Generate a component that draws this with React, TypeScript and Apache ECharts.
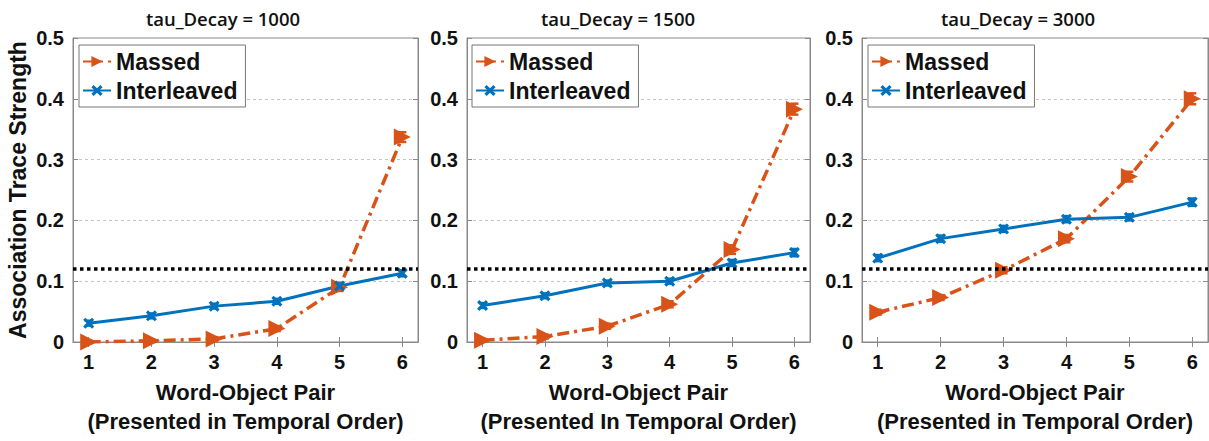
import React, { useEffect, useRef } from "react";
import * as echarts from "echarts";

// ---- data ----
const pairs = [1, 2, 3, 4, 5, 6];
const panelTitles = ["tau_Decay = 1000", "tau_Decay = 1500", "tau_Decay = 3000"];
const xNames = [
  "Word-Object Pair\n(Presented in Temporal Order)",
  "Word-Object Pair\n(Presented In Temporal Order)",
  "Word-Object Pair\n(Presented in Temporal Order)",
];
const yName = "Association Trace Strength";
const seriesNames = ["Massed", "Interleaved"];
const threshold = 0.12;

const massed1000 = [0.0, 0.002, 0.005, 0.022, 0.09, 0.337];
const interleaved1000 = [0.031, 0.043, 0.059, 0.067, 0.092, 0.113];
const massed1500 = [0.003, 0.009, 0.026, 0.062, 0.152, 0.383];
const interleaved1500 = [0.06, 0.076, 0.097, 0.1, 0.13, 0.147];
const massed3000 = [0.049, 0.073, 0.118, 0.17, 0.272, 0.4];
const interleaved3000 = [0.138, 0.17, 0.186, 0.202, 0.205, 0.23];

const massedErr1000 = [0.002, 0.002, 0.003, 0.004, 0.006, 0.008];
const interleavedErr1000 = [0.004, 0.004, 0.004, 0.004, 0.005, 0.005];
const massedErr1500 = [0.002, 0.003, 0.004, 0.005, 0.007, 0.009];
const interleavedErr1500 = [0.004, 0.004, 0.004, 0.004, 0.005, 0.006];
const massedErr3000 = [0.004, 0.004, 0.005, 0.006, 0.008, 0.009];
const interleavedErr3000 = [0.005, 0.005, 0.005, 0.005, 0.005, 0.006];

const massedByPanel = [massed1000, massed1500, massed3000];
const interleavedByPanel = [interleaved1000, interleaved1500, interleaved3000];
const massedErrByPanel = [massedErr1000, massedErr1500, massedErr3000];
const interleavedErrByPanel = [interleavedErr1000, interleavedErr1500, interleavedErr3000];

// ---- styling / layout ----
const ORANGE = "#D95319";
const BLUE = "#0072BD";
const AXIS = "#8a8a8a";
const TEXT = "#111";
const FONT = 'Arial, "Liberation Sans", Helvetica, sans-serif';
const gridLefts = [73, 467, 862];
const gridWidths = [345, 343, 346];
const titleCenters = [218, 613, 1013];
const legendLefts = [79, 472, 868];
const X_SYMBOL =
  "path://M0,2 L2,0 L5,3 L8,0 L10,2 L7,5 L10,8 L8,10 L5,7 L2,10 L0,8 L3,5 Z";

function errorSeries(name: string, color: string, values: number[], errs: number[], idx: number) {
  return {
    type: "custom",
    name: name + " error",
    xAxisIndex: idx * 2,
    yAxisIndex: idx * 2,
    silent: true,
    z: 3,
    data: pairs.map((x, j) => [x, values[j] - errs[j], values[j] + errs[j]]),
    renderItem: (params: any, api: any) => {
      const x = api.value(0);
      const lo = api.coord([x, api.value(1)]);
      const hi = api.coord([x, api.value(2)]);
      const cap = 4;
      const style = { stroke: color, lineWidth: 2.5, fill: "none" };
      return {
        type: "group",
        children: [
          { type: "line", shape: { x1: lo[0], y1: lo[1], x2: hi[0], y2: hi[1] }, style },
          { type: "line", shape: { x1: lo[0] - cap, y1: lo[1], x2: lo[0] + cap, y2: lo[1] }, style },
          { type: "line", shape: { x1: hi[0] - cap, y1: hi[1], x2: hi[0] + cap, y2: hi[1] }, style },
        ],
      };
    },
  };
}

function buildOption() {
  const grids: any[] = [];
  const xAxes: any[] = [];
  const yAxes: any[] = [];
  const series: any[] = [];
  const titles: any[] = [];
  const legends: any[] = [];

  for (let i = 0; i < 3; i++) {
    grids.push({
      left: gridLefts[i],
      width: gridWidths[i],
      top: 38,
      height: 305,
      show: true,
      borderColor: AXIS,
      borderWidth: 1,
      backgroundColor: "#fff",
    });
    xAxes.push({
      gridIndex: i,
      type: "value",
      min: 0.75,
      max: 6.25,
      axisLine: { show: true, lineStyle: { color: AXIS, width: 1 } },
      axisTick: { show: true, inside: true, length: 5, customValues: pairs, lineStyle: { color: AXIS } },
      axisLabel: {
        customValues: pairs,
        fontSize: 20,
        fontWeight: "bold",
        color: TEXT,
        fontFamily: FONT,
        margin: 10,
      },
      splitLine: { show: false },
      name: xNames[i],
      nameLocation: "middle",
      nameGap: 36,
      nameTextStyle: { fontSize: 22, fontWeight: "bold", color: TEXT, fontFamily: FONT, lineHeight: 29 },
    });
    xAxes.push({
      gridIndex: i,
      type: "value",
      position: "top",
      min: 0.75,
      max: 6.25,
      axisLine: { show: true, lineStyle: { color: AXIS, width: 1 } },
      axisTick: { show: true, inside: true, length: 5, customValues: pairs, lineStyle: { color: AXIS } },
      axisLabel: { show: false },
      splitLine: { show: false },
    });
    yAxes.push({
      gridIndex: i,
      type: "value",
      min: 0,
      max: 0.5,
      interval: 0.1,
      axisLine: { show: true, lineStyle: { color: AXIS, width: 1 } },
      axisTick: { show: true, inside: true, length: 5, lineStyle: { color: AXIS } },
      axisLabel: {
        fontSize: 20,
        fontWeight: "bold",
        color: TEXT,
        fontFamily: FONT,
        margin: 9,
        formatter: (v: number) => (v === 0 ? "0" : v.toFixed(1)),
      },
      splitLine: { show: true, lineStyle: { color: "#c4c4c4", width: 1, type: [3, 3] } },
      ...(i === 0
        ? {
            name: yName,
            nameLocation: "middle",
            nameGap: 44,
            nameTextStyle: { fontSize: 23, fontWeight: "bold", color: TEXT, fontFamily: FONT },
          }
        : {}),
    });
    yAxes.push({
      gridIndex: i,
      type: "value",
      position: "right",
      min: 0,
      max: 0.5,
      interval: 0.1,
      axisLine: { show: true, lineStyle: { color: AXIS, width: 1 } },
      axisTick: { show: true, inside: true, length: 5, lineStyle: { color: AXIS } },
      axisLabel: { show: false },
      splitLine: { show: false },
    });

    titles.push({
      text: panelTitles[i],
      left: titleCenters[i],
      top: 4,
      textAlign: "center",
      textStyle: { fontSize: 18.5, fontWeight: 600, color: TEXT, fontFamily: '"Open Sans", Lato, sans-serif' },
    });

    legends.push({
      left: legendLefts[i],
      top: 45,
      orient: "vertical",
      data: seriesNames,
      itemWidth: 28,
      itemHeight: 14,
      itemGap: 2,
      padding: [3, 8, 3, 3],
      backgroundColor: "#fff",
      borderColor: "#777",
      borderWidth: 1,
      selectedMode: false,
      textStyle: { fontSize: 23, fontWeight: "bold", color: TEXT, fontFamily: FONT, lineHeight: 27 },
    });

    series.push({
      type: "line",
      name: "Massed",
      xAxisIndex: i * 2,
      yAxisIndex: i * 2,
      data: pairs.map((x, j) => [x, massedByPanel[i][j]]),
      symbol: "triangle",
      symbolRotate: -90,
      symbolSize: 17,
      z: 4,
      lineStyle: { color: ORANGE, width: 3.5, type: [12, 5, 3, 5] },
      itemStyle: { color: ORANGE },
      markLine: {
        silent: true,
        symbol: "none",
        label: { show: false },
        lineStyle: { color: "#000", width: 3.5, type: [3.5, 3.5] },
        data: [{ yAxis: threshold }],
      },
    });
    series.push(errorSeries("Massed", ORANGE, massedByPanel[i], massedErrByPanel[i], i));
    series.push({
      type: "line",
      name: "Interleaved",
      xAxisIndex: i * 2,
      yAxisIndex: i * 2,
      data: pairs.map((x, j) => [x, interleavedByPanel[i][j]]),
      symbol: X_SYMBOL,
      symbolSize: 11,
      z: 4,
      lineStyle: { color: BLUE, width: 3 },
      itemStyle: { color: BLUE },
    });
    series.push(errorSeries("Interleaved", BLUE, interleavedByPanel[i], interleavedErrByPanel[i], i));
  }

  return {
    animation: false,
    backgroundColor: "#fff",
    textStyle: { fontFamily: FONT },
    title: titles,
    legend: legends,
    grid: grids,
    xAxis: xAxes,
    yAxis: yAxes,
    series,
  };
}

export default function App() {
  const ref = useRef<HTMLDivElement>(null);
  useEffect(() => {
    if (!ref.current) return;
    const chart = echarts.init(ref.current, undefined, { renderer: "svg" });
    chart.setOption(buildOption() as any);
    return () => chart.dispose();
  }, []);
  return (
    <div
      ref={ref}
      style={{ position: "absolute", left: 0, top: 0, width: 1209, height: 441, background: "#fff" }}
    />
  );
}
